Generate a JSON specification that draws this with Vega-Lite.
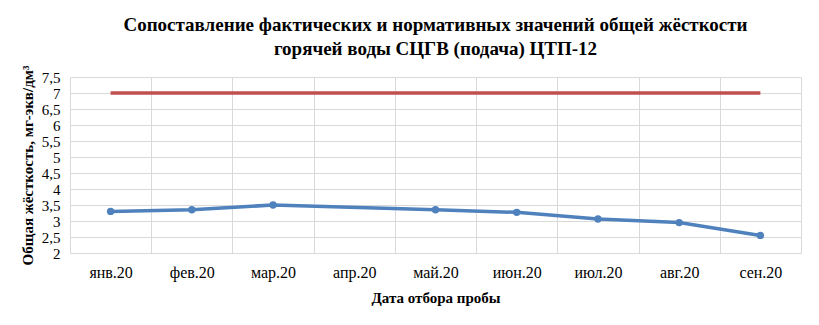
{
  "$schema": "https://vega.github.io/schema/vega-lite/v6.json",
  "autosize": {"type": "fit", "contains": "padding"},
  "width": 819,
  "height": 325,
  "padding": {"left": 20, "right": 18, "top": 21, "bottom": 20},
  "background": "white",
  "title": {
    "text": ["Сопоставление фактических и нормативных значений общей жёсткости", "горячей воды СЦГВ (подача) ЦТП-12"],
    "font": "Liberation Serif",
    "fontSize": 19,
    "fontWeight": "bold",
    "color": "#000000",
    "anchor": "middle",
    "lineHeight": 24,
    "offset": 6
  },
  "data": {
    "values": [
      {"month": "янв.20", "actual": 3.3, "norm": 7},
      {"month": "фев.20", "actual": 3.35, "norm": 7},
      {"month": "мар.20", "actual": 3.5, "norm": 7},
      {"month": "апр.20", "actual": null, "norm": 7},
      {"month": "май.20", "actual": 3.35, "norm": 7},
      {"month": "июн.20", "actual": 3.27, "norm": 7},
      {"month": "июл.20", "actual": 3.06, "norm": 7},
      {"month": "авг.20", "actual": 2.95, "norm": 7},
      {"month": "сен.20", "actual": 2.55, "norm": 7}
    ]
  },
  "encoding": {
    "x": {
      "field": "month",
      "type": "nominal",
      "sort": null,
      "scale": {"domain": ["янв.20", "фев.20", "мар.20", "апр.20", "май.20", "июн.20", "июл.20", "авг.20", "сен.20"], "paddingInner": 0, "paddingOuter": 0},
      "axis": {
        "title": "Дата отбора пробы",
        "titleFont": "Liberation Serif",
        "titleFontSize": 15,
        "titleFontWeight": "bold",
        "titleColor": "#000000",
        "titlePadding": 10,
        "labelFont": "Liberation Serif",
        "labelFontSize": 16,
        "labelColor": "#000000",
        "labelAngle": 0,
        "labelPadding": 11,
        "tickBand": "extent",
        "ticks": false,
        "domain": false,
        "grid": true,
        "gridColor": "#d9d9d9",
        "gridWidth": 1
      }
    }
  },
  "layer": [
    {
      "mark": {"type": "line", "color": "#C0504D", "strokeWidth": 3.5},
      "encoding": {
        "y": {
          "field": "norm",
          "type": "quantitative",
          "scale": {"domain": [2, 7.5], "nice": false, "zero": false},
          "axis": {
            "title": "Общая жёсткость, мг-экв/дм³",
            "titleFont": "Liberation Serif",
            "titleFontSize": 15,
            "titleFontWeight": "bold",
            "titleColor": "#000000",
            "titlePadding": 6,
            "labelFont": "Liberation Serif",
            "labelFontSize": 15,
            "labelColor": "#000000",
            "labelPadding": 10,
            "labelOverlap": false,
            "values": [2, 2.5, 3, 3.5, 4, 4.5, 5, 5.5, 6, 6.5, 7, 7.5],
            "labelExpr": "replace(format(datum.value, '~g'), '.', ',')",
            "ticks": false,
            "domain": false,
            "grid": true,
            "gridColor": "#d9d9d9",
            "gridWidth": 1
          }
        }
      }
    },
    {
      "transform": [{"filter": "datum.actual != null"}],
      "mark": {"type": "line", "color": "#4F81BD", "strokeWidth": 3.5, "point": {"color": "#4F81BD", "size": 55, "filled": true, "opacity": 1}},
      "encoding": {
        "y": {
          "field": "actual",
          "type": "quantitative",
          "axis": {
            "title": "Общая жёсткость, мг-экв/дм³",
            "titleFont": "Liberation Serif",
            "titleFontSize": 15,
            "titleFontWeight": "bold",
            "titleColor": "#000000",
            "titlePadding": 6,
            "labelFont": "Liberation Serif",
            "labelFontSize": 15,
            "labelColor": "#000000",
            "labelPadding": 10,
            "labelOverlap": false,
            "values": [2, 2.5, 3, 3.5, 4, 4.5, 5, 5.5, 6, 6.5, 7, 7.5],
            "labelExpr": "replace(format(datum.value, '~g'), '.', ',')",
            "ticks": false,
            "domain": false,
            "grid": true,
            "gridColor": "#d9d9d9",
            "gridWidth": 1
          }
        }
      }
    }
  ],
  "config": {"view": {"stroke": null}}
}
